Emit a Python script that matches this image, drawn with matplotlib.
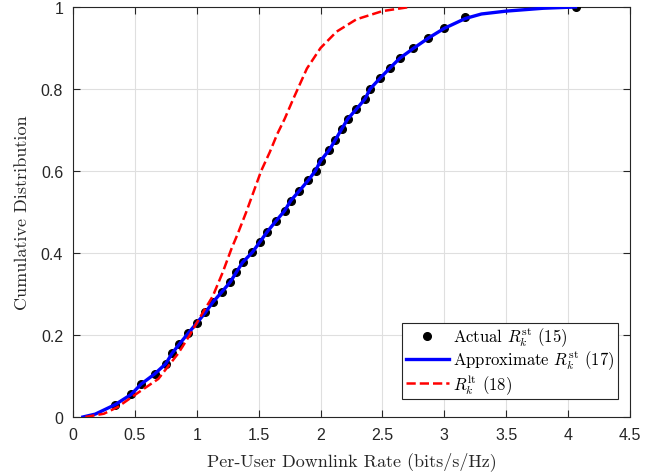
import matplotlib
matplotlib.use('Agg')
import matplotlib.pyplot as plt
import numpy as np

plt.rcParams['mathtext.fontset'] = 'cm'

# marker samples of the actual rate CDF
actual_x = [0.34, 0.47, 0.55, 0.66, 0.75, 0.80, 0.86, 0.93, 1.00, 1.07,
            1.13, 1.20, 1.27, 1.32, 1.37, 1.45, 1.51, 1.57, 1.64, 1.71,
            1.76, 1.83, 1.90, 1.96, 2.00, 2.07, 2.12, 2.17, 2.22, 2.29,
            2.36, 2.40, 2.48, 2.56, 2.64, 2.75, 2.87, 3.00, 3.17, 4.06]
actual_y = [0.030, 0.055, 0.080, 0.105, 0.130, 0.155, 0.178, 0.204, 0.229, 0.255,
            0.280, 0.304, 0.329, 0.353, 0.377, 0.402, 0.427, 0.452, 0.478, 0.503,
            0.528, 0.552, 0.577, 0.601, 0.625, 0.651, 0.676, 0.702, 0.727, 0.751,
            0.776, 0.800, 0.826, 0.851, 0.875, 0.899, 0.924, 0.948, 0.975, 1.000]

# approximate rate CDF
approx_x = [0.08, 0.18, 0.34, 0.47, 0.55, 0.66, 0.75, 0.80, 0.86, 0.93, 1.00,
            1.07, 1.13, 1.20, 1.27, 1.32, 1.37, 1.45, 1.51, 1.57, 1.64, 1.71,
            1.76, 1.83, 1.90, 1.96, 2.00, 2.07, 2.12, 2.17, 2.22, 2.29, 2.36,
            2.40, 2.48, 2.56, 2.64, 2.75, 2.87, 3.00, 3.17, 3.30, 3.50, 3.80, 4.06]
approx_y = [0.000, 0.007, 0.030, 0.055, 0.080, 0.105, 0.130, 0.155, 0.178, 0.204, 0.229,
            0.255, 0.280, 0.304, 0.329, 0.353, 0.377, 0.402, 0.427, 0.452, 0.478, 0.503,
            0.528, 0.552, 0.577, 0.601, 0.625, 0.651, 0.676, 0.702, 0.727, 0.751, 0.776,
            0.800, 0.826, 0.851, 0.875, 0.899, 0.924, 0.948, 0.972, 0.983, 0.990, 0.997, 1.000]

# long-term rate CDF
lt_x = [0.10, 0.25, 0.36, 0.52, 0.69, 0.77, 0.85, 0.94, 1.02, 1.13, 1.21, 1.28,
        1.33, 1.40, 1.46, 1.52, 1.59, 1.65, 1.71, 1.78, 1.89, 2.00, 2.13, 2.29,
        2.50, 2.72]
lt_y = [0.000, 0.008, 0.024, 0.058, 0.093, 0.124, 0.155, 0.198, 0.240, 0.295, 0.353, 0.410,
        0.446, 0.500, 0.550, 0.600, 0.646, 0.690, 0.727, 0.776, 0.850, 0.900, 0.940, 0.970,
        0.990, 1.000]

xticks = np.arange(0, 4.51, 0.5)
yticks = np.arange(0, 1.01, 0.2)
xtick_labels = ['0', '0.5', '1', '1.5', '2', '2.5', '3', '3.5', '4', '4.5']
ytick_labels = ['0', '0.2', '0.4', '0.6', '0.8', '1']

fig = plt.figure(figsize=(6.67, 4.77), dpi=100)
ax = fig.add_axes([0.1094, 0.1237, 0.8351, 0.8595])

ax.plot(actual_x, actual_y, 'o', color='black', markersize=5.5,
        label=r'Actual $R_k^{\rm st}$ (15)', zorder=3)
ax.plot(approx_x, approx_y, '-', color='#0000ff', linewidth=2.4,
        label=r'Approximate $R_k^{\rm st}$ (17)', zorder=4)
ax.plot(lt_x, lt_y, '--', color='#ff0000', linewidth=1.8,
        label=r'$R_k^{\rm lt}$ (18)', zorder=5)

ax.set_xlim(0, 4.5)
ax.set_ylim(0, 1)
ax.set_xticks(xticks)
ax.set_yticks(yticks)
ax.set_xticklabels(xtick_labels)
ax.set_yticklabels(ytick_labels)

# matlab-like box, grid and inward ticks
ax.grid(True, color='#dfdfdf', linewidth=0.8)
ax.set_axisbelow(True)
for s in ax.spines.values():
    s.set_color('#262626')
    s.set_linewidth(0.8)
ax.tick_params(direction='in', top=True, right=True, length=5, width=0.8,
               colors='#262626', labelsize=11.5, pad=7)
for lab in ax.get_xticklabels() + ax.get_yticklabels():
    lab.set_fontfamily('Liberation Sans')

ax.set_xlabel('Per-User Downlink Rate (bits/s/Hz)', fontfamily='cmr10',
              fontsize=13, color='#262626', labelpad=7)
ax.set_ylabel('Cumulative Distribution', fontfamily='cmr10',
              fontsize=13, color='#262626', labelpad=8)

leg = ax.legend(loc='lower right', bbox_to_anchor=(0.978, 0.044), borderaxespad=0,
                prop={'family': 'cmr10', 'size': 12}, fancybox=False,
                handlelength=2.6, handletextpad=0.25, labelspacing=-0.05,
                borderpad=0.2, framealpha=1)
leg.get_frame().set_edgecolor('#262626')
leg.get_frame().set_linewidth(0.8)

fig.savefig('out.png', dpi=100)
